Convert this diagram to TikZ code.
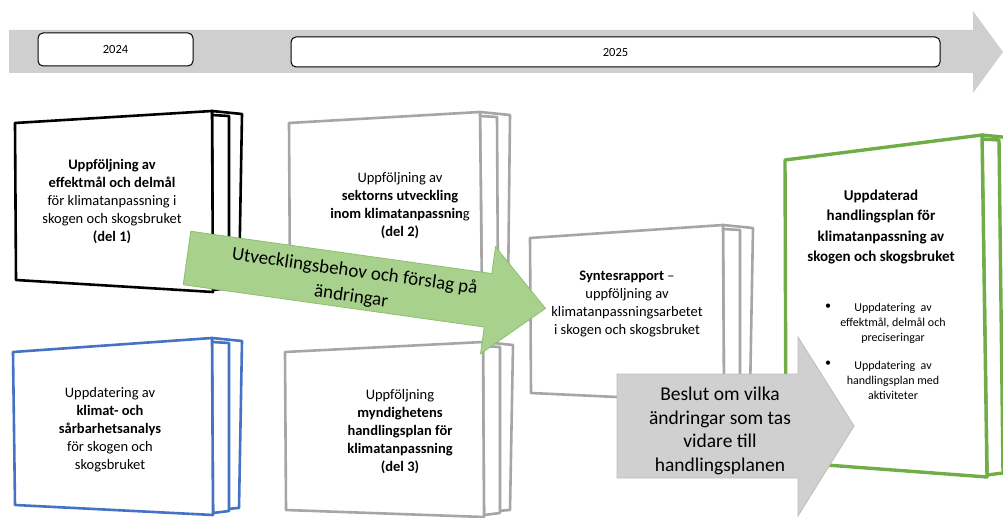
\documentclass[tikz,border=0pt]{standalone}
\usepackage{fontspec}
\setmainfont{Carlito}
\definecolor{bandgrey}{HTML}{CFCFCF}
\definecolor{bookgrey}{HTML}{A6A6A6}
\definecolor{bookblue}{HTML}{4472C4}
\definecolor{bookgreen}{HTML}{70AD47}
\definecolor{arrowgreen}{HTML}{A9D18E}
\definecolor{arrowgreenedge}{HTML}{8CBF6E}
\definecolor{arrowgrey}{HTML}{D0D0D0}
\definecolor{arrowgreyedge}{HTML}{BDBDBD}
\newcommand\drawbook[9]{%
  \draw[#1] (#4,#5) -- (#4+30,#5+3) -- (#6+26,#7-7) -- (#6,#7-5) -- cycle;
  \draw[#1] (#4,#5+4) -- (#4+17,#5+5) -- (#6+16,#7-4) -- (#6,#7-2) -- cycle;
  \draw[#1] (#2,#3) -- (#4,#5) -- (#6,#7) -- (#8,#9) -- cycle;
}
\tikzset{
  bookline/.style={fill=white, line width=2.6pt, line join=round},
  booktext/.style={align=center, font=\fontsize{14.5}{18}\selectfont, text=black, inner sep=0pt},
  yearbox/.style={draw=black, fill=white, line width=1pt, rounded corners=5pt, font=\fontsize{12.5}{14}\selectfont, inner sep=0pt},
  arrowtext/.style={align=center, text=black, inner sep=0pt},
  bullettext/.style={align=center, font=\fontsize{12}{15}\selectfont, text=black, inner sep=0pt},
}
\begin{document}
\begin{tikzpicture}[x=1pt,y=-1pt]
\useasboundingbox (0,0) rectangle (1003,518);
\clip (0,0) rectangle (1003,518);
% timeline band
\fill[bandgrey] (9,30) -- (973,30) -- (973,11) -- (1003,52) -- (973,93) -- (973,73) -- (9,73) -- cycle;
\node[yearbox, minimum width=155pt, minimum height=33pt] (y2024) at (115.5,49.5) {2024};
\node[yearbox, minimum width=649pt, minimum height=30pt] (y2025) at (615.5,52) {2025};
% books
\drawbook{bookline, draw=black}{15}{123}{212}{111}{213}{292}{16}{280}
\drawbook{bookline, draw=bookgrey}{289}{123}{480}{112}{482}{300}{290}{293}
\drawbook{bookline, draw=bookgrey}{530}{238}{723}{225}{724}{402}{531}{393}
\drawbook{bookline, draw=bookblue}{13}{352}{212}{338}{213}{515}{15}{505}
\drawbook{bookline, draw=bookgrey}{285}{352}{483}{342}{484}{517}{286}{510}
\drawbook{bookline, draw=bookgreen, line width=3.4pt}{785}{160}{982}{135}{987}{477}{786}{462}
% book texts
\node[booktext] (t1) at (112,202) {\textbf{Uppföljning av}\\\textbf{effektmål och delmål}\\för klimatanpassning i\\skogen och skogsbruket\\\textbf{(del 1)}};
\node[booktext] (t2) at (400,206) {Uppföljning av\\\textbf{sektorns utveckling}\\\textbf{inom klimatanpassnin}g\\\textbf{(del 2)}};
\node[booktext] (t3) at (627,304) {\textbf{Syntesrapport} –\\uppföljning av\\klimatanpassningsarbetet\\i skogen och skogsbruket};
\node[booktext] (t4) at (110,430) {Uppdatering av\\\textbf{klimat- och}\\\textbf{sårbarhetsanalys}\\för skogen och\\skogsbruket};
\node[booktext] (t5) at (400,432) {Uppföljning\\\textbf{myndighetens}\\\textbf{handlingsplan för}\\\textbf{klimatanpassning}\\\textbf{(del 3)}};
\node[booktext, font=\fontsize{15}{20.5}\selectfont] (t6) at (881,227) {\textbf{Uppdaterad}\\\textbf{handlingsplan för}\\\textbf{klimatanpassning av}\\\textbf{skogen och skogsbruket}};
\node[bullettext] (b1) at (828,307) {•};
\node[bullettext] (b1t) at (893,323) {Uppdatering\ \ av\\effektmål, delmål och\\preciseringar};
\node[bullettext] (b2) at (828,364) {•};
\node[bullettext] (b2t) at (893,380) {Uppdatering\ \ av\\handlingsplan med\\aktiviteter};
% green arrow
\begin{scope}[shift={(187,258)}, rotate=-8]
  \fill[arrowgreen, draw=arrowgreenedge, line width=0.8pt] (0,-27) -- (304,-27) -- (304,-54) -- (362,0) -- (304,54) -- (304,27) -- (0,27) -- cycle;
  \node[arrowtext, font=\fontsize{19}{25}\selectfont, rotate=-8] (ga) at (168,3) {Utvecklingsbehov och förslag på\\ändringar};
\end{scope}
% grey arrow
\fill[arrowgrey, draw=arrowgreyedge, line width=0.8pt] (617,374) -- (798,374) -- (798,337) -- (854,426) -- (798,516) -- (798,478) -- (617,478) -- cycle;
\node[arrowtext, font=\fontsize{19.5}{23.5}\selectfont] (gr) at (720,431) {Beslut om vilka\\ändringar som tas\\vidare till\\handlingsplanen};
\end{tikzpicture}
\end{document}
